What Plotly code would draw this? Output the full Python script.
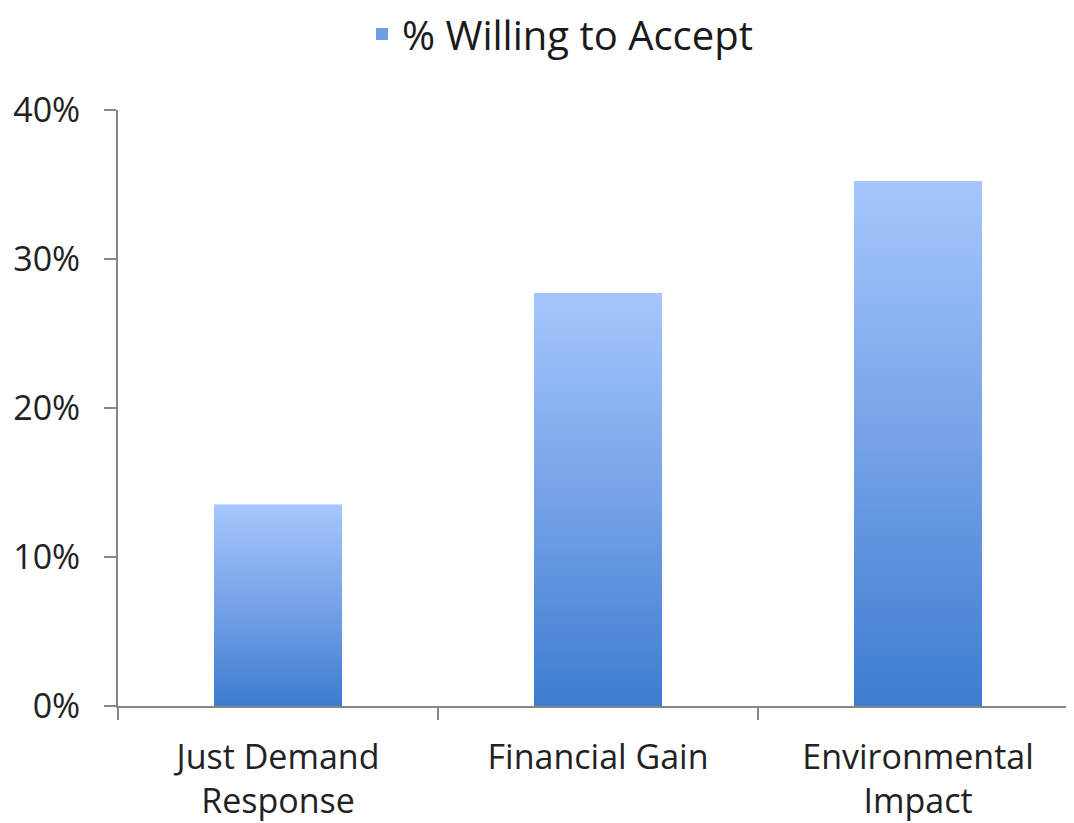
import plotly.graph_objects as go

categories = ["Just Demand<br>Response", "Financial Gain", "Environmental<br>Impact"]
values = [0.135, 0.277, 0.352]
series_name = "% Willing to Accept"
y_ticks = [0, 0.1, 0.2, 0.3, 0.4]

FONT = "Open Sans"
BAR_W = 0.4
AXIS_COLOR = "#878787"

fig = go.Figure()

# Base bar trace (provides legend entry)
fig.add_trace(go.Bar(
    x=categories, y=values, name=series_name, width=BAR_W,
    marker=dict(color="#6f9de6", line=dict(width=0)),
    hoverinfo="skip",
))

# Gradient overlay for each bar
for i, v in enumerate(values):
    x0, x1 = i - BAR_W / 2, i + BAR_W / 2
    fig.add_trace(go.Scatter(
        x=[x0, x1, x1, x0, x0], y=[0, 0, v, v, 0],
        xaxis="x2", yaxis="y", mode="lines", fill="toself",
        line=dict(width=0),
        fillgradient=dict(type="vertical",
                          colorscale=[[0, "#3d7cd0"], [0.5, "#75a2e8"], [1, "#a6c6fd"]]),
        showlegend=False, hoverinfo="skip",
    ))

xrange = [-0.5, 2.5125]
fig.update_layout(
    width=1074, height=823,
    margin=dict(l=110, r=0, t=102, b=125),
    paper_bgcolor="white", plot_bgcolor="white",
    font=dict(family=FONT, size=34, color="#222222"),
    showlegend=True,
    legend=dict(orientation="h", xref="container", yref="container",
                x=(362 - 8) / 1074, xanchor="left", y=1 - 26 / 823, yanchor="middle",
                font=dict(size=40, color="#1a1a1a"), itemwidth=30),
    xaxis=dict(type="category", range=xrange, tickson="boundaries",
               ticks="outside", ticklen=12, tickwidth=2, tickcolor=AXIS_COLOR,
               showline=True, linecolor=AXIS_COLOR, linewidth=2,
               showgrid=False, zeroline=False, fixedrange=True,
               ticklabelstandoff=20),
    xaxis2=dict(overlaying="x", range=xrange, visible=False, fixedrange=True),
    yaxis=dict(range=[0, 0.4], tickvals=y_ticks, tickformat=".0%",
               ticks="outside", ticklen=12, tickwidth=2, tickcolor=AXIS_COLOR,
               showline=True, linecolor=AXIS_COLOR, linewidth=2,
               showgrid=False, zeroline=False, ticklabelstandoff=17,
               fixedrange=True),
)

fig.write_html("out.html")
